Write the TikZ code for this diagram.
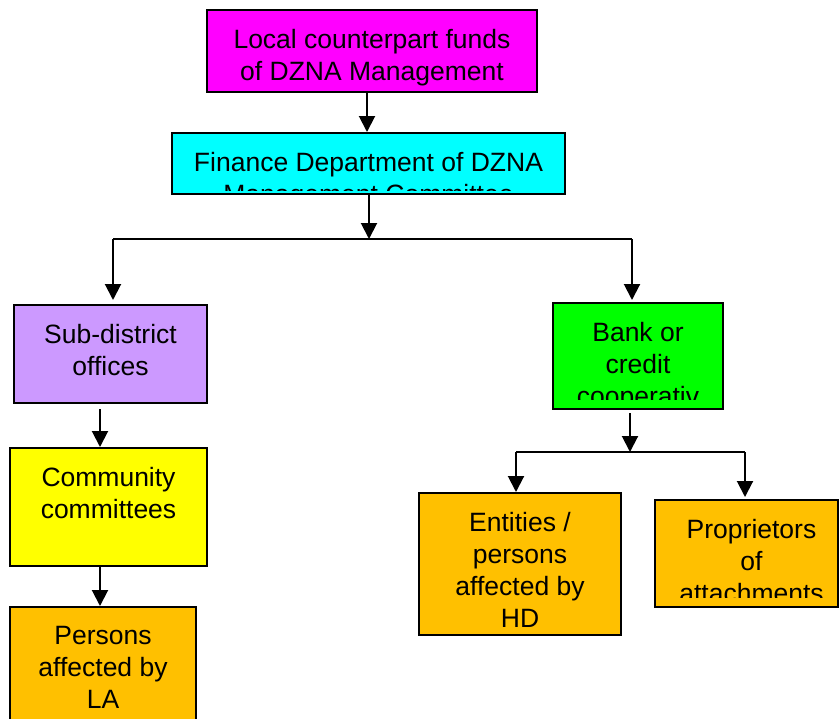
\documentclass[tikz,border=0pt]{standalone}
\usepackage{fontspec}
\setmainfont{Liberation Sans}
\usetikzlibrary{arrows.meta, positioning}

\definecolor{fundcol}{RGB}{255,0,255}
\definecolor{fincol}{RGB}{0,255,255}
\definecolor{subcol}{RGB}{204,153,255}
\definecolor{bankcol}{RGB}{0,255,0}
\definecolor{commcol}{RGB}{255,255,0}
\definecolor{paycol}{RGB}{255,192,0}

\newcommand{\cellfont}{\fontsize{26.5}{32}\selectfont}

\tikzset{
	cellcut/.store in=\cellcut, cellcut=4pt,
	box/.style={draw=black, line width=2pt, inner sep=0pt},
	celltext/.style={anchor=north, align=center, inner sep=0pt, minimum width=0pt, minimum height=0pt, draw=none, font=\cellfont},
	cell/.style={path picture={
		\clip ([yshift=\cellcut]path picture bounding box.south west) rectangle (path picture bounding box.north east);
		\node[celltext] at ([yshift=-18.5pt]path picture bounding box.north) {#1};}},
	arr/.style={line width=2pt, -{Triangle[length=16pt,width=16pt]}},
	link/.style={line width=1.6pt}
}

\begin{document}
\begin{tikzpicture}[x=1pt, y=-1pt]
			\useasboundingbox (0,0) rectangle (840,718);
			% Top of the flow
			\node[box, fill=fundcol, minimum width=330, minimum height=82,
				cell={Local counterpart funds\\of DZNA Management}] (fund) at (372,51) {};
			\node[box, fill=fincol, minimum width=393, minimum height=61,
				cell={Finance Department of DZNA\\Management Committee}] (fin) at (368.5,163.5) {};
			% Second level
			\node[box, fill=subcol, minimum width=193, minimum height=98,
				cell={Sub-district\\offices}] (sub) at (110.5,354) {};
			\node[box, fill=bankcol, minimum width=170, minimum height=106, cellcut=10pt,
				cell={Bank or\\credit\\cooperativ\\e}] (bank) at (638,356) {};
			% Left branch
			\node[box, fill=commcol, minimum width=197, minimum height=118,
				cell={Community\\committees}] (comm) at (108.5,507) {};
			\node[box, fill=paycol, minimum width=186, minimum height=130,
				cell={Persons\\affected by\\LA}] (pers) at (103,672) {};
			% Right branch
			\node[box, fill=paycol, minimum width=202, minimum height=142,
				cell={Entities /\\persons\\affected by\\HD}] (ent) at (520,564) {};
			\node[box, fill=paycol, minimum width=183, minimum height=107, cellcut=10pt,
				cell={\hspace*{10pt}Proprietors\\\hspace*{10pt}of\\\hspace*{10pt}attachments}] (prop) at (746.5,553.5) {};
			% Junction points
			\coordinate (split) at (369,239);
			\coordinate (splitL) at (113,239);
			\coordinate (splitR) at (632,239);
			\coordinate (bsplit) at (630,452);
			\coordinate (bsplitL) at (516,452);
			\coordinate (bsplitR) at (745,452);
			% Connectors
			\draw[arr] (fund.south -| 367,0) -- (fin.north -| 367,0);
			\draw[arr] (fin.south -| split) -- (split);
			\draw[link] (splitL) -- (splitR);
			\draw[arr] (splitL) -- ([yshift=4pt]sub.north -| splitL);
			\draw[arr] (splitR) -- ([yshift=2pt]bank.north -| splitR);
			\draw[arr] ([yshift=-5pt]sub.south -| 100,0) -- (comm.north -| 100,0);
			\draw[arr] (comm.south -| 100,0) -- (pers.north -| 100,0);
			\draw[arr] ([yshift=-3pt]bank.south -| bsplit) -- (bsplit);
			\draw[link] (bsplitL) -- (bsplitR);
			\draw[arr] (bsplitL) -- (ent.north -| bsplitL);
			\draw[arr] (bsplitR) -- ([yshift=2pt]prop.north -| bsplitR);
		\end{tikzpicture}
\end{document}
